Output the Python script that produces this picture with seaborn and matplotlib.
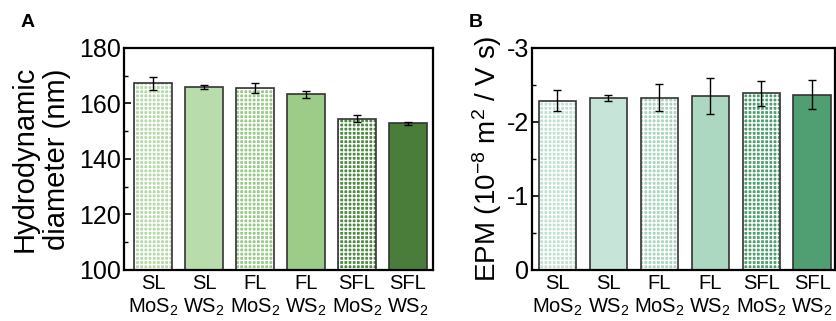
import numpy as np
import pandas as pd
import matplotlib
matplotlib.use('Agg')
import matplotlib.pyplot as plt
import seaborn as sns
from matplotlib.ticker import MultipleLocator

#==============================================================================
# Data
#==============================================================================
labels = ['SL\nMoS$_2$', 'SL\nWS$_2$', 'FL\nMoS$_2$', 'FL\nWS$_2$', 'SFL\nMoS$_2$', 'SFL\nWS$_2$']
checkered = [True, False, True, False, True, False]

hd_mean = [167.3, 166.1, 165.5, 163.3, 154.5, 152.8]
hd_err = [2.3, 0.7, 1.8, 1.3, 1.3, 0.4]
hd_colors = ['#b3d9a6', '#b8dcac', '#98ca87', '#9dcc89', '#4c8a40', '#4a7d3a']

epm_mean = [-2.29, -2.33, -2.33, -2.35, -2.39, -2.37]
epm_err = [0.14, 0.04, 0.18, 0.24, 0.17, 0.20]
epm_colors = ['#c0e0d2', '#c6e4d7', '#a9d5bf', '#acd7c1', '#4c9e6c', '#4f9f72']

#==============================================================================
# Style
#==============================================================================
sns.set_style('ticks')
plt.rcParams['font.family'] = ['Liberation Sans', 'DejaVu Sans']
plt.rcParams['mathtext.fontset'] = 'custom'
plt.rcParams['mathtext.rm'] = 'Liberation Sans'
plt.rcParams['mathtext.it'] = 'Liberation Sans:italic'
plt.rcParams['hatch.linewidth'] = 1.0
plt.rcParams['text.color'] = 'black'
plt.rcParams['axes.labelcolor'] = 'black'
plt.rcParams['xtick.color'] = 'black'
plt.rcParams['ytick.color'] = 'black'

fig = plt.figure(figsize=(8.36, 3.21), dpi=100)
ax_a = fig.add_axes([0.1483, 0.1589, 0.3696, 0.6916])
ax_b = fig.add_axes([0.6364, 0.1589, 0.3624, 0.6916])


def draw_panel(ax, mean, err, colors):
    df = pd.DataFrame({'label': labels, 'value': mean})
    # filled bars (checkered ones get a white grid hatch)
    sns.barplot(data=df, x='label', y='value', hue='label', palette=colors,
                saturation=1, width=0.73, legend=False, errorbar=None, ax=ax,
                linewidth=0)
    for patch, chk in zip(ax.patches, checkered):
        if chk:
            patch.set_hatch('++++')
            patch.set_edgecolor('white')
    # outlines on top
    sns.barplot(data=df, x='label', y='value', fill=False, color='#333333',
                width=0.73, errorbar=None, ax=ax, linewidth=1.2)
    ax.errorbar(np.arange(len(labels)), mean, yerr=err, fmt='none',
                ecolor='black', elinewidth=1.0, capsize=3, capthick=1.0, zorder=5)
    for s in ax.spines.values():
        s.set_visible(True)
        s.set_linewidth(1.6)
        s.set_color('black')
    ax.tick_params(axis='y', which='major', direction='in', length=5, width=1.2,
                   labelsize=18, pad=2)
    ax.tick_params(axis='y', which='minor', direction='in', length=3, width=1.0)
    ax.tick_params(axis='x', length=0, labelsize=14.5, pad=3)
    ax.set_xlabel('')


draw_panel(ax_a, hd_mean, hd_err, hd_colors)
ax_a.set_ylim(100, 180)
ax_a.set_xlim(-0.57, 5.49)
ax_a.yaxis.set_major_locator(MultipleLocator(20))
ax_a.yaxis.set_minor_locator(MultipleLocator(10))
ax_a.set_ylabel('Hydrodynamic\ndiameter (nm)', fontsize=21, labelpad=6, linespacing=1.2)

draw_panel(ax_b, epm_mean, epm_err, epm_colors)
ax_b.set_ylim(0, -3)
ax_b.set_xlim(-0.5, 5.45)
ax_b.yaxis.set_minor_locator(MultipleLocator(0.5))
ax_b.set_yticks([0, -1, -2, -3])
ax_b.set_yticklabels(['0', '-1', '-2', '-3'])
ax_b.set_ylabel('EPM (10$^{-8}$ m$^2$ / V s)', fontsize=20, labelpad=2)

fig.text(0.025, 0.955, 'A', fontsize=14, fontweight='bold', va='top')
fig.text(0.561, 0.955, 'B', fontsize=14, fontweight='bold', va='top')

fig.savefig('out.png', dpi=100)
